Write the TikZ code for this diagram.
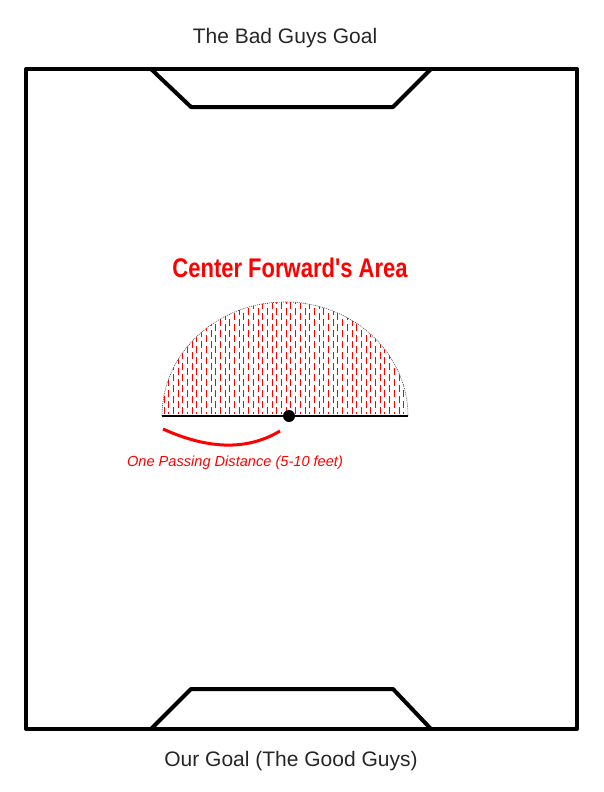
\documentclass[tikz,border=0pt]{standalone}
\usepackage{fontspec}
\setmainfont{Liberation Sans}
\newfontfamily\areafont{Liberation Sans}
\usetikzlibrary{positioning, calc}

\begin{document}
\begin{tikzpicture}[
  x=1pt, y=-1pt,
  line/.style = {line width=4pt, line join=round},
  goaltext/.style = {font=\fontsize{21}{24}\selectfont, text=black!85},
  areatext/.style = {font=\areafont\bfseries\fontsize{27}{30}\selectfont, text=red, xscale=0.815},
  disttext/.style = {font=\itshape\fontsize{14.6}{17}\selectfont, text=red}
]
  \useasboundingbox (0,0) rectangle (604,792);

  % Field
  \draw[line] (26,69) rectangle (577,729);

  % Bad guys goal
  \coordinate (tl) at (151,69);
  \coordinate (tr) at (431,69);
  \draw[line] (tl) -- (191,107) -- (393,107) -- (tr);
  \node[goaltext] (badgoal) at (285,38) {The Bad Guys Goal};

  % Our goal
  \coordinate (bl) at (151,729);
  \coordinate (br) at (431,729);
  \draw[line] (bl) -- (191,689) -- (393,689) -- (br);
  \node[goaltext] (ourgoal) at (291,761) {Our Goal (The Good Guys)};

  % Center forward area
  \node[areatext] (area) at (290,268) {Center Forward's Area};
  \begin{scope}
    \clip (162,416) arc[start angle=180, end angle=360, x radius=123, y radius=114] -- cycle;
    \foreach \i in {0,...,53} {
      \pgfmathsetmacro{\xx}{164+4.7*\i}
      \pgfmathsetmacro{\ph}{mod(\i,2)*5}
      \draw[red, line width=1pt, dash pattern=on 7pt off 4pt, dash phase=\ph pt] (\xx,414) -- (\xx,300);
    }
  \end{scope}
  \draw[black!70, line width=0.6pt, dash pattern=on 1pt off 1pt]
    (162,416) arc[start angle=180, end angle=360, x radius=123, y radius=114];
  \draw[line width=2pt] (162,416) -- (408,416);
  \node[circle, fill=black, inner sep=0pt, minimum size=12pt] (player) at (289,416) {};

  % Passing distance
  \coordinate (pstart) at (163,429);
  \coordinate (pend) at (280,431);
  \draw[red, line width=3pt] (pstart) .. controls (205,448) and (245,452) .. (pend);
  \node[disttext] (dist) at (235,463) {One Passing Distance (5-10 feet)};

\end{tikzpicture}
\end{document}
